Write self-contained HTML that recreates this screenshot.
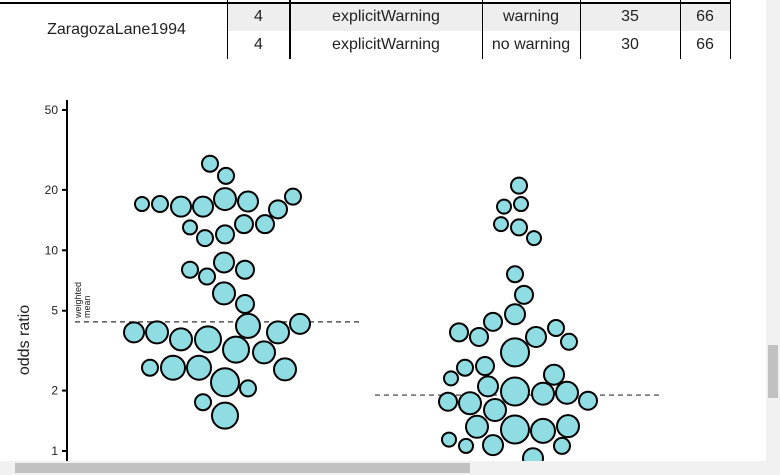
<!DOCTYPE html>
<html><head><meta charset="utf-8"><style>
body{margin:0;width:780px;height:475px;overflow:hidden;background:#fff;font-family:"Liberation Sans",sans-serif;position:relative}
.cell{position:absolute;font-size:16px;text-align:center;line-height:28px;color:#222}
</style></head><body>
<div style="position:absolute;left:0;top:0;width:766px;height:60px">
<div style="position:absolute;left:0;top:2px;width:730px;height:2px;background:#000"></div>
<div style="position:absolute;left:227px;top:4px;width:503px;height:27px;background:#eeeeee"></div>
<div class="cell" style="left:3px;top:16px;width:227px">ZaragozaLane1994</div>
<div class="cell" style="left:227px;top:3px;width:63px">4</div>
<div class="cell" style="left:290px;top:3px;width:192px">explicitWarning</div>
<div class="cell" style="left:482px;top:3px;width:98px">warning</div>
<div class="cell" style="left:580px;top:3px;width:100px">35</div>
<div class="cell" style="left:680px;top:3px;width:50px">66</div>
<div class="cell" style="left:227px;top:31px;width:63px">4</div>
<div class="cell" style="left:290px;top:31px;width:192px">explicitWarning</div>
<div class="cell" style="left:482px;top:31px;width:98px">no warning</div>
<div class="cell" style="left:580px;top:31px;width:100px">30</div>
<div class="cell" style="left:680px;top:31px;width:50px">66</div>
<div style="position:absolute;left:227px;top:0;width:1px;height:59px;background:#000"></div>
<div style="position:absolute;left:289px;top:0;width:2px;height:59px;background:#000"></div>
<div style="position:absolute;left:482px;top:0;width:1px;height:59px;background:#000"></div>
<div style="position:absolute;left:580px;top:0;width:1px;height:59px;background:#000"></div>
<div style="position:absolute;left:680px;top:0;width:1px;height:59px;background:#000"></div>
<div style="position:absolute;left:730px;top:0;width:1px;height:59px;background:#000"></div>
</div>
<svg id="chart" width="766" height="461" style="position:absolute;left:0;top:0" font-family="Liberation Sans, sans-serif"></svg>
<div style="position:absolute;left:766px;top:0;width:14px;height:461px;background:#f1f1f1"><div style="position:absolute;left:2px;top:345px;width:10px;height:53px;background:#c1c1c1"></div></div>
<div style="position:absolute;left:0;top:461px;width:780px;height:14px;background:#f1f1f1"><div style="position:absolute;left:15px;top:2px;width:455px;height:10px;background:#c1c1c1"></div></div>
<script>
const ticks=[1,2,5,10,20,50];
const groupMeans=[4.4,1.9];
// group 1: x position, odds ratio, circle radius (weight)
const g1x=[210,226,142,160,181,203,225,248,278,293,190,205,225,244,265,190,207,224,245,224,245,134,157,181,208,248,278,300,236,264,150,173,199,225,285,248,203,225];
const g1y=[27,23.5,17,17,16.5,16.5,18,17.5,16,18.5,13,11.5,12,13.5,13.5,8,7.4,8.7,8,6.1,5.4,3.9,3.9,3.6,3.6,4.2,3.9,4.3,3.2,3.1,2.6,2.6,2.6,2.2,2.55,2.05,1.75,1.5];
const g1r=[8,8,7,8,10,10,11,10,9,8,7,8,9,9,9,8,8,10,9,11,9,10,11,11,13,12,11,10,13,11,8,12,12,14,11,8,8,13];
// group 2
const g2x=[519,504,521,501,519,534,515,524,515,493,459,479,536,556,569,515,465,485,451,554,488,515,543,567,448,470,495,588,477,515,543,568,449,466,493,562,533];
const g2y=[21,16.5,17,13.5,13,11.5,7.6,6,4.8,4.4,3.9,3.7,3.7,4.1,3.5,3.1,2.6,2.65,2.3,2.4,2.1,1.98,1.93,1.95,1.76,1.73,1.6,1.78,1.32,1.28,1.26,1.33,1.14,1.06,1.07,1.06,0.92];
const g2r=[8,7,7,7,8,7,8,9,10,9,9,9,10,8,8,14,8,9,7,10,10,14,11,11,9,11,11,9,11,14,12,11,7,7,10,8,10];
const NS='http://www.w3.org/2000/svg',svg=document.getElementById('chart');
const Y=v=>451-Math.log10(v)*200.7;
function mk(t,a,p){const e=document.createElementNS(NS,t);for(const k in a)e.setAttribute(k,a[k]);(p||svg).appendChild(e);return e;}
const ax=mk('line',{x1:67,y1:100,x2:67,y2:461,stroke:'#000','stroke-width':2});


ticks.forEach(t=>{const tk=mk('line',{x1:62,x2:67,y1:Y(t),y2:Y(t),stroke:'#000','stroke-width':2});


const tl=mk('text',{x:58,y:Y(t)+4,'text-anchor':'end','font-size':12,fill:'#222'});tl.textContent=t;

});
const yt=mk('text',{x:0,y:0,transform:'translate(29,340) rotate(-90)','text-anchor':'middle','font-size':16,fill:'#222'});yt.textContent='odds ratio';


[[75,360],[375,660]].forEach((r,i)=>{const l=mk('line',{x1:r[0],x2:r[1],y1:Y(groupMeans[i]),y2:Y(groupMeans[i]),stroke:'#333','stroke-width':1.2,'stroke-dasharray':'5,4'});

});
const wm=mk('text',{transform:'translate(81,318) rotate(-90)','font-size':9,fill:'#222'});


mk('tspan',{x:0,dy:0},wm).textContent='weighted';mk('tspan',{x:0,dy:9},wm).textContent='mean';
[[g1x,g1y,g1r],[g2x,g2y,g2r]].forEach(([xs,ys,rs])=>xs.forEach((x,i)=>{const c=mk('circle',{cx:x,cy:Y(ys[i]),r:rs[i],fill:'#8fdde3',stroke:'#000','stroke-width':2});

}));
</script>
</body></html>
